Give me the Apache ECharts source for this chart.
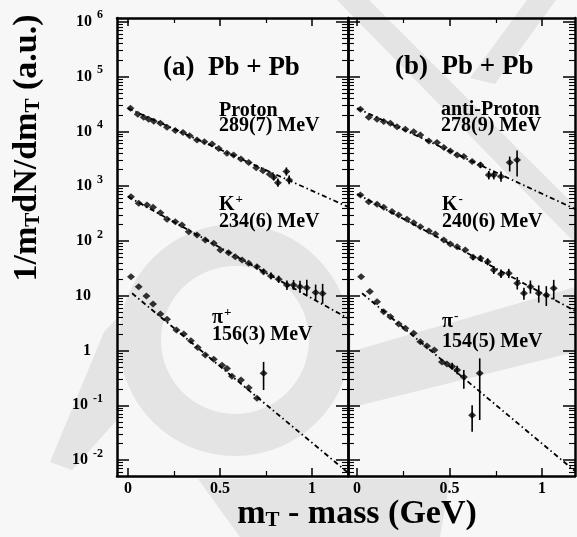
<!DOCTYPE html>
<html><head><meta charset="utf-8">
<script src="https://cdn.jsdelivr.net/npm/echarts@6/dist/echarts.min.js"></script>
<style>html,body{margin:0;padding:0;background:#f7f7f7}#c{width:577px;height:537px}</style>
</head><body><div id="c"></div>
<script>
// ---------- Data (units: a.u. vs GeV) ----------
// Panel (a) Pb + Pb
const protonX = [0.013,0.053,0.085,0.112,0.140,0.176,0.212,0.257,0.299,0.335,0.375,0.415,0.457,0.493,0.538,0.574,0.614,0.656,0.697,0.734,0.770,0.792,0.815,0.861,0.876];
const protonY = [26500,20600,18200,16700,15300,14100,11900,10400,9500,8300,7000,6500,5900,4900,4000,3700,3150,2700,2180,1920,1650,1450,1160,1850,1300];
const protonErrX = [0.792,0.815,0.861,0.876];
const protonErrLo = [1280,980,1560,1080];
const protonErrHi = [1650,1380,2200,1560];

const kPlusX = [0.016,0.058,0.103,0.136,0.176,0.212,0.257,0.293,0.330,0.375,0.420,0.466,0.502,0.547,0.583,0.620,0.656,0.701,0.737,0.777,0.819,0.864,0.900,0.935,0.972,1.020,1.058];
const kPlusY = [644,488,455,412,329,249,225,196,148,129,104,90.8,68.5,61.1,51.6,45.0,39.1,34.0,27.5,23.0,20.0,15.7,15.7,14.6,14.0,11.5,11.0];
const kPlusErrX = [0.701,0.737,0.777,0.819,0.864,0.900,0.935,0.972,1.020,1.058];
const kPlusErrLo = [31,24.5,20,17.2,12.8,12.8,11.3,10.3,8,7.2];
const kPlusErrHi = [37,31,26.5,23.2,19,19.3,18.8,19.5,16,16.5];

const piPlusX = [0.016,0.058,0.100,0.136,0.176,0.212,0.263,0.303,0.342,0.379,0.420,0.466,0.511,0.538,0.565,0.614,0.656,0.701,0.737];
const piPlusY = [22.3,14.6,9.9,7.06,4.65,3.72,2.37,2.0,1.51,1.14,0.83,0.69,0.54,0.47,0.34,0.29,0.21,0.134,0.384];
const piPlusErrX = [0.737];
const piPlusErrLo = [0.19];
const piPlusErrHi = [0.62];

// Panel (b) Pb + Pb
const pbarX = [0.018,0.063,0.108,0.144,0.180,0.216,0.261,0.306,0.342,0.388,0.432,0.469,0.504,0.541,0.577,0.622,0.667,0.712,0.739,0.778,0.825,0.865];
const pbarY = [25400,18200,16700,15100,14100,12200,11000,9900,8630,6710,6250,5060,4400,3720,3470,2810,2440,1600,1600,1500,2700,3000];
const pbarErrX = [0.667,0.712,0.739,0.778,0.825,0.865];
const pbarErrLo = [2150,1330,1330,1200,1860,1500];
const pbarErrHi = [2750,1900,1900,1850,3470,4470];

const kMinusX = [0.018,0.063,0.108,0.144,0.189,0.225,0.270,0.306,0.342,0.388,0.423,0.469,0.504,0.541,0.585,0.627,0.667,0.706,0.739,0.778,0.820,0.866,0.902,0.937,0.982,1.023,1.063];
const kMinusY = [692,522,468,412,344,299,249,216,182,152,134,104,88,78.7,68.5,50.4,48.3,41.9,29.5,25.0,25.7,16.9,11.1,14.6,11.1,10.3,13.7];
const kMinusErrX = [0.627,0.667,0.706,0.739,0.778,0.820,0.866,0.902,0.937,0.982,1.023,1.063];
const kMinusErrLo = [45,43,36,25,21,21,13,8.5,11,7.5,6.5,8.5];
const kMinusErrHi = [56,54,48,35,30,31,22,14,19,15.5,15,19.5];

const piMinusX = [0.022,0.069,0.108,0.144,0.180,0.225,0.261,0.306,0.342,0.378,0.418,0.459,0.486,0.514,0.541,0.577,0.622,0.663];
const piMinusY = [22.3,11.9,7.8,5.1,4.15,3.05,2.54,2.06,1.45,1.21,1.02,0.62,0.57,0.51,0.44,0.33,0.066,0.384];
const piMinusErrX = [0.514,0.541,0.577,0.622,0.663];
const piMinusErrLo = [0.45,0.37,0.20,0.033,0.054];
const piMinusErrHi = [0.60,0.53,0.44,0.10,0.72];

// Exponential fit lines (end points)
const fitProtonX = [0, 1.196],  fitProtonY = [26300, 420];
const fitKPlusX  = [0, 1.196],  fitKPlusY  = [645, 3.87];
const fitPiPlusX = [0.022, 1.196], fitPiPlusY = [11.1, 0.0059];
const fitPbarX   = [0, 1.178],  fitPbarY   = [26500, 384];
const fitKMinusX = [0, 1.178],  fitKMinusY = [720, 5.3];
const fitPiMinusX= [0.027, 1.178], fitPiMinusY = [11.1, 0.0063];

// Tick labels
const yTickExps = [-2,-1,0,1,2,3,4,5,6];
const xTickVals = [0, 0.5, 1];
const xMinorVals = [0.25, 0.75];

// ---------- Chart ----------
const FONT = 'Liberation Serif';
const lg = Math.log10;
const yMin = -2.29, yMax = 6.07;
const yMinor = [];
for (let n = -3; n <= 6; n++) for (let k = 2; k <= 9; k++) { const v = n + lg(k); if (v > yMin && v < yMax) yMinor.push(v); }

const pts = (xs, ys) => xs.map((x, i) => [x, lg(ys[i])]);
const errs = (xs, lo, hi) => xs.map((x, i) => [x, lg(lo[i]), lg(hi[i])]);

const axLine = { show: true, onZero: false, lineStyle: { color: '#000', width: 2.5 } };
function xAxes(g, min, max) {
  const base = { type: 'value', gridIndex: g, min, max, splitLine: { show: false }, axisLine: { show: false, onZero: false }, axisLabel: { show: false } };
  const tMaj = { show: true, inside: true, length: 8, customValues: xTickVals, lineStyle: { color: '#000', width: 1.5 } };
  const tMin = { show: true, inside: true, length: 5, customValues: xMinorVals, lineStyle: { color: '#000', width: 1.2 } };
  return [
    Object.assign({}, base, { position: 'bottom', axisLine: axLine, axisTick: tMaj,
      axisLabel: { show: true, customValues: xTickVals, margin: 5, color: '#000', fontFamily: FONT, fontWeight: 'bold', fontSize: 16, formatter: v => String(v) } }),
    Object.assign({}, base, { position: 'bottom', axisTick: tMin }),
    Object.assign({}, base, { position: 'top', axisLine: axLine, axisTick: tMaj }),
    Object.assign({}, base, { position: 'top', axisTick: tMin })
  ];
}
function yLabel(v) {
  const e = Math.round(v);
  if (e === 0) return '{b|1}{sp|}';
  if (e === 1) return '{b|10}{sp|}';
  return '{b|10}{s|' + e + '}';
}
function yAxes(g, withLabels) {
  const base = { type: 'value', gridIndex: g, min: yMin, max: yMax, splitLine: { show: false }, axisLine: { show: false, onZero: false }, axisLabel: { show: false } };
  const tMaj = { show: true, inside: true, length: 12, customValues: yTickExps, lineStyle: { color: '#000', width: 1.5 } };
  const tMin = { show: true, inside: true, length: 6, customValues: yMinor, lineStyle: { color: '#000', width: 1.1 } };
  const lab = withLabels ? { show: true, customValues: yTickExps, margin: 14, formatter: yLabel,
      rich: { b: { fontFamily: FONT, fontWeight: 'bold', fontSize: 16, color: '#000' },
              s: { fontFamily: FONT, fontWeight: 'bold', fontSize: 12, color: '#000', padding: [0, 0, 13, 5] },
              sp: { width: 12 } } } : { show: false };
  return [
    Object.assign({}, base, { position: 'left', axisLine: axLine, axisTick: tMaj, axisLabel: lab }),
    Object.assign({}, base, { position: 'left', axisTick: tMin }),
    Object.assign({}, base, { position: 'right', axisLine: axLine, axisTick: tMaj }),
    Object.assign({}, base, { position: 'right', axisTick: tMin })
  ];
}

function scatter(g, data) {
  return { type: 'scatter', xAxisIndex: g * 4, yAxisIndex: g * 4, data, symbol: 'diamond', symbolSize: [8, 7],
           itemStyle: { color: '#000' }, silent: true, z: 4 };
}
function fit(g, data) {
  return { type: 'line', xAxisIndex: g * 4, yAxisIndex: g * 4, data, symbol: 'none', silent: true, z: 3,
           lineStyle: { color: '#000', width: 1.8, type: [5, 3, 1.5, 3] } };
}
function errBars(g, data) {
  return { type: 'custom', xAxisIndex: g * 4, yAxisIndex: g * 4, data, silent: true, z: 5,
    renderItem: (params, api) => {
      const a = api.coord([api.value(0), api.value(1)]);
      const b = api.coord([api.value(0), api.value(2)]);
      return { type: 'line', shape: { x1: a[0], y1: a[1], x2: b[0], y2: b[1] }, style: { stroke: '#000', lineWidth: 1.6 } };
    } };
}

const txt = (x, y, text, size, extra) => ({ type: 'text', x, y, z: 10, style: Object.assign({ text, fill: '#000',
  font: 'bold ' + size + 'px "' + FONT + '"', textVerticalAlign: 'middle' }, extra || {}) });
const sup = (base, s, x, y) => ({ type: 'text', x, y, z: 10, style: { text: '{b|' + base + '}{s|' + s + '}', textVerticalAlign: 'middle',
  rich: { b: { fontFamily: FONT, fontWeight: 'bold', fontSize: 20, color: '#000' },
          s: { fontFamily: FONT, fontWeight: 'bold', fontSize: 13, color: '#000', padding: [0, 0, 11, 1] } } } });

// faint scanned watermark behind the plot (decoration only)
const WM = '#e4e4e4';
const wmPoly = pts2 => ({ type: 'polygon', z: -5, silent: true, shape: { points: pts2 }, style: { fill: WM } });

const option = {
  backgroundColor: '#f7f7f7',
  animation: false,
  grid: [
    { left: 117, top: 18, width: 231, height: 458 },
    { left: 348, top: 18, width: 227, height: 458 }
  ],
  xAxis: [].concat(xAxes(0, -0.06, 1.196), xAxes(1, -0.049, 1.178)),
  yAxis: [].concat(yAxes(0, true), yAxes(1, false)),
  series: [
    fit(0, pts(fitProtonX, fitProtonY)), fit(0, pts(fitKPlusX, fitKPlusY)), fit(0, pts(fitPiPlusX, fitPiPlusY)),
    scatter(0, pts(protonX, protonY)), scatter(0, pts(kPlusX, kPlusY)), scatter(0, pts(piPlusX, piPlusY)),
    errBars(0, errs(protonErrX, protonErrLo, protonErrHi)), errBars(0, errs(kPlusErrX, kPlusErrLo, kPlusErrHi)),
    errBars(0, errs(piPlusErrX, piPlusErrLo, piPlusErrHi)),
    fit(1, pts(fitPbarX, fitPbarY)), fit(1, pts(fitKMinusX, fitKMinusY)), fit(1, pts(fitPiMinusX, fitPiMinusY)),
    scatter(1, pts(pbarX, pbarY)), scatter(1, pts(kMinusX, kMinusY)), scatter(1, pts(piMinusX, piMinusY)),
    errBars(1, errs(pbarErrX, pbarErrLo, pbarErrHi)), errBars(1, errs(kMinusErrX, kMinusErrLo, kMinusErrHi)),
    errBars(1, errs(piMinusErrX, piMinusErrLo, piMinusErrHi))
  ],
  graphic: [
    { type: 'ring', z: -5, silent: true, shape: { cx: 235, cy: 340, r: 116, r0: 74 }, style: { fill: WM } },
    wmPoly([[50, 462], [72, 470], [117, 420], [117, 318], [104, 332]]),
    wmPoly([[337, 0], [369, 0], [577, 208], [577, 245]]),
    wmPoly([[527, 0], [556, 0], [495, 84], [470, 78]]),
    wmPoly([[349, 352], [575, 287], [575, 352], [349, 408]]),
    wmPoly([[198, 479], [450, 479], [440, 537], [240, 537]]),
    txt(163, 68, '(a)  Pb + Pb', 27),
    txt(395, 67, '(b)  Pb + Pb', 27),
    txt(219, 111, 'Proton', 20), txt(219, 126, '289(7) MeV', 20),
    sup('K', '+', 219, 205), txt(219, 222, '234(6) MeV', 20),
    sup('π', '+', 212, 318), txt(212, 335, '156(3) MeV', 20),
    txt(441, 110, 'anti-Proton', 20), txt(441, 126, '278(9) MeV', 20),
    sup('K', '-', 442, 205), txt(442, 222, '240(6) MeV', 20),
    sup('π', '-', 442, 322), txt(442, 342, '154(5) MeV', 20),
    { type: 'text', x: 27, y: 148, rotation: Math.PI / 2, z: 10,
      style: { text: '{t|1/m}{s|T}{t|dN/dm}{s|T}{t| (a.u.)}', textAlign: 'center', textVerticalAlign: 'middle',
        rich: { t: { fontFamily: FONT, fontWeight: 'bold', fontSize: 34, color: '#000' },
                s: { fontFamily: FONT, fontWeight: 'bold', fontSize: 21, color: '#000', padding: [14, 0, 0, 0] } } } },
    { type: 'text', x: 357, y: 514, z: 10,
      style: { text: '{t|m}{s|T}{t| - mass (GeV)}', textAlign: 'center', textVerticalAlign: 'middle',
        rich: { t: { fontFamily: FONT, fontWeight: 'bold', fontSize: 34, color: '#000' },
                s: { fontFamily: FONT, fontWeight: 'bold', fontSize: 21, color: '#000', padding: [14, 0, 0, 0] } } } }
  ]
};
const chart = echarts.init(document.getElementById('c'), null, { renderer: 'canvas' });
chart.setOption(option);
</script>
</body></html>
